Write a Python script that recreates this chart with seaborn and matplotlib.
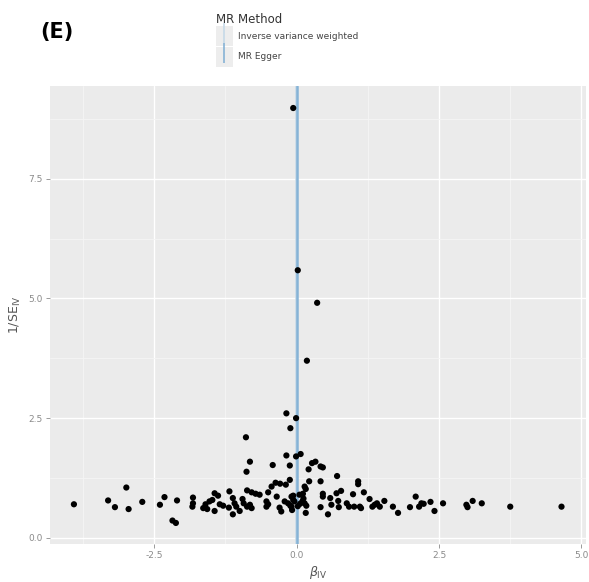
import matplotlib
matplotlib.use("Agg")
import matplotlib.pyplot as plt
from matplotlib.lines import Line2D
from matplotlib.patches import Rectangle
from matplotlib.legend_handler import HandlerTuple
import pandas as pd
import seaborn as sns

# beta_IV e 1/SE_IV
beta_iv = [
    -3.91, -3.31, -3.19, -2.99, -2.95, -2.71, -2.40, -2.32, -2.10, -2.18, -2.12,
    -1.82, -1.82, -1.83, -1.64, -1.60, -1.57, -1.53, -1.48, -1.44, -1.44, -1.38,
    -1.35, -1.29, -1.19, -1.18, -1.12, -1.12, -1.09, -1.06, -1.00, -0.95, -0.93,
    -0.87, -0.82, -0.79, -0.87, -0.79, -0.72, -0.65, -0.53, -0.53, -0.50, -0.50,
    -0.44, -0.37, -0.29, -0.19, -0.12, -0.35, -0.30, -0.27, -0.21, -0.15, -0.06,
    -0.11, -0.08, -0.09, -0.06, -0.09, -0.04,
    -0.89, -0.88, -0.82, -0.42, -0.18, -0.01, -0.11, -0.18, -0.01, 0.07, -0.12,
    0.27, 0.33, 0.21, 0.42, 0.46, 0.71, -0.06, 0.02, 0.36, 0.18,
    0.14, 0.16, 0.11, 0.10, 0.14, 0.17, 0.16, 0.22, 0.42, 0.46, 0.46, 0.42,
    0.55, 0.59, 0.61, 0.70, 0.73, 0.74, 0.78, 0.88, 0.92, 0.99, 1.01, 1.08,
    1.08, 1.11, 1.13, 1.18, 1.28, 1.33, 1.37, 1.41, 1.46, 1.54, 1.69, 1.78,
    1.99, 2.09, 2.15, 2.19, 2.23, 2.35, 2.42, 2.57, 2.98, 3.00, 3.09, 3.25,
    3.75, 4.65, 0.05, 0.06, 0.02, 0.12,
]
inv_se = [
    0.70, 0.78, 0.64, 1.05, 0.60, 0.75, 0.69, 0.85, 0.78, 0.36, 0.31,
    0.84, 0.72, 0.65, 0.62, 0.70, 0.60, 0.76, 0.79, 0.56, 0.93, 0.88,
    0.70, 0.67, 0.63, 0.97, 0.83, 0.49, 0.72, 0.65, 0.56, 0.81, 0.72,
    0.65, 0.69, 0.62, 0.99, 0.95, 0.92, 0.90, 0.76, 0.65, 0.70, 0.95,
    1.07, 1.15, 1.13, 1.11, 1.21, 0.86, 0.63, 0.55, 0.76, 0.72, 0.88,
    0.67, 0.58, 0.86, 0.79, 0.65, 0.76,
    2.10, 1.38, 1.59, 1.52, 2.60, 2.50, 2.29, 1.72, 1.70, 1.75, 1.51,
    1.56, 1.59, 1.43, 1.49, 1.47, 1.29, 8.98, 5.59, 4.91, 3.70,
    1.07, 1.02, 0.92, 0.76, 0.72, 0.67, 0.52, 1.18, 1.18, 0.92, 0.86, 0.64,
    0.49, 0.83, 0.69, 0.93, 0.77, 0.64, 0.98, 0.72, 0.65, 0.91, 0.65, 1.18,
    1.12, 0.65, 0.62, 0.95, 0.81, 0.65, 0.69, 0.72, 0.65, 0.77, 0.65, 0.52,
    0.64, 0.86, 0.65, 0.72, 0.71, 0.75, 0.56, 0.72, 0.69, 0.64, 0.77, 0.72,
    0.65, 0.65, 0.90, 0.71, 0.66, 0.82,
]

metodos = ["Inverse variance weighted", "MR Egger"]
estimativas = [-0.01, 0.0]
cores = ["#c6d9e8", "#86b3d6"]

df = pd.DataFrame({"beta": beta_iv, "inv_se": inv_se})

sns.set_theme(style="darkgrid", rc={
    "axes.facecolor": "#EBEBEB",
    "grid.color": "white",
    "grid.linewidth": 1.0,
    "axes.edgecolor": "#EBEBEB",
})

fig = plt.figure(figsize=(5.89, 5.82), dpi=100)
ax = fig.add_axes([50 / 589, 38 / 582, 536 / 589, 458 / 582])

for est, cor in zip(estimativas, cores):
    ax.axvline(est, color=cor, linewidth=1.8, zorder=2)

sns.scatterplot(data=df, x="beta", y="inv_se", color="black", s=20,
                edgecolor="none", ax=ax, zorder=3)

ax.set_xlim(-4.33, 5.08)
ax.set_ylim(-0.13, 9.44)
ax.set_xticks([-2.5, 0.0, 2.5, 5.0])
ax.set_yticks([0.0, 2.5, 5.0, 7.5])
ax.set_xticks([-3.75, -1.25, 1.25, 3.75], minor=True)
ax.set_yticks([1.25, 3.75, 6.25, 8.75], minor=True)
ax.set_xticklabels(["-2.5", "0.0", "2.5", "5.0"])
ax.set_yticklabels(["0.0", "2.5", "5.0", "7.5"])
ax.grid(which="minor", color="#F5F5F5", linewidth=0.6)
ax.tick_params(axis="both", which="major", labelsize=6.5, colors="#8a8a8a",
               length=3, width=0.6, direction="out", pad=2)
ax.tick_params(axis="both", which="minor", length=0)
ax.tick_params(axis="x", bottom=True)
ax.tick_params(axis="y", left=True)
for s in ax.spines.values():
    s.set_visible(False)

ax.set_xlabel(r"$\beta_{\mathrm{IV}}$", fontsize=9, color="#555555", labelpad=3)
ax.set_ylabel(r"1/SE$_{\mathrm{IV}}$", fontsize=9, color="#555555", labelpad=4)

fig.text(0.068, 0.945, "(E)", fontsize=15, fontweight="bold", color="black",
         ha="left", va="center")

handles = [(Rectangle((0, 0), 1, 1, facecolor="#EDEDED", edgecolor="none"),
            Line2D([], [], color=cor, marker="|", markersize=14,
                   markeredgewidth=1.2, linestyle="none"))
           for cor in cores]
leg = fig.legend(handles, metodos, title="MR Method",
                 handler_map={tuple: HandlerTuple(ndivide=1, pad=0)},
                 loc="upper left", bbox_to_anchor=(0.358, 0.987),
                 frameon=False, fontsize=6.5, title_fontsize=8.5,
                 handlelength=1.8, handleheight=3.0, labelspacing=0.05,
                 handletextpad=0.6, alignment="left", borderaxespad=0.2)
for t in leg.get_texts():
    t.set_color("#444444")
leg.get_title().set_color("#333333")

fig.savefig("out.png", dpi=100)
